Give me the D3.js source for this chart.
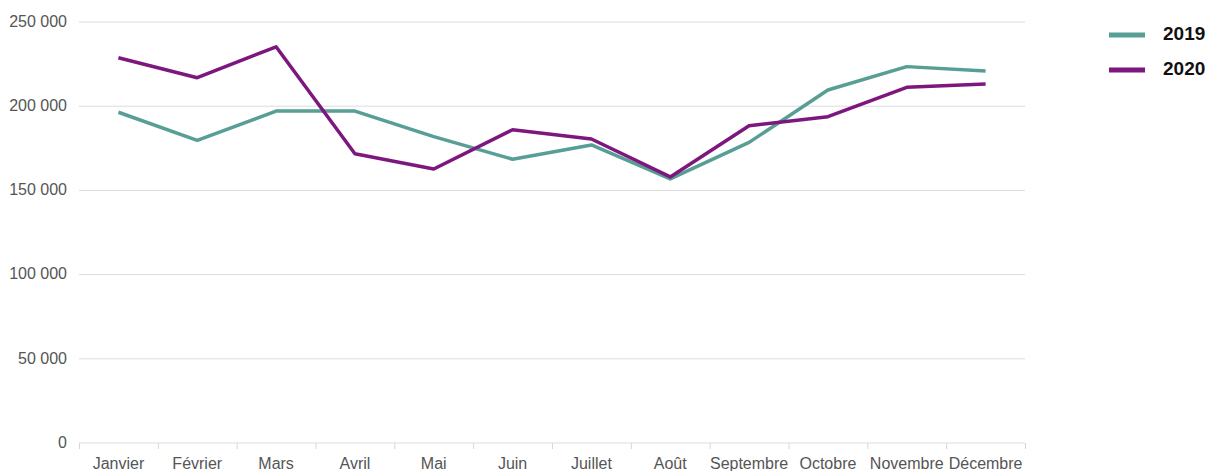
<!DOCTYPE html>
<html>
<head>
<meta charset="utf-8">
<script src="https://cdn.jsdelivr.net/npm/d3@7"></script>
<style>
  body { margin: 0; background: #fff; }
  svg { font-family: "Liberation Sans", Arial, sans-serif; }
</style>
</head>
<body>
<svg id="chart" width="1210" height="471"></svg>
<script>
// data
var months = ["Janvier","Février","Mars","Avril","Mai","Juin","Juillet","Août","Septembre","Octobre","Novembre","Décembre"];
var values2019 = [196400,179700,197100,197100,181900,168500,177000,156800,178500,209600,223500,220900];
var values2020 = [228800,216900,235300,171800,162700,186000,180500,158000,188400,193800,211200,213200];
var yTicks = [0,50000,100000,150000,200000,250000];
var seriesNames = ["2019","2020"];
var seriesColors = ["#579f95","#7d177d"];

var margin = {top: 22, right: 185, bottom: 28, left: 79},
    width = 1210 - margin.left - margin.right,
    height = 471 - margin.top - margin.bottom;

var svg = d3.select('#chart');
var g = svg.append('g').attr("transform", "translate(" + margin.left + "," + margin.top + ")");

var x = d3.scaleBand().domain(months).range([0, width]);
var y = d3.scaleLinear().domain([0, 250000]).range([height, 0]);

var fmt = function(v){ return d3.format(",")(v).replace(/,/g, " "); };

// gridlines
g.append("g")
 .selectAll("line")
 .data(yTicks)
 .join("line")
 .attr("x1", 0).attr("x2", width)
 .attr("y1", d => y(d)).attr("y2", d => y(d))
 .attr("stroke", "#dcdcdc").attr("stroke-width", 1);

// y labels
g.append("g")
 .selectAll("text")
 .data(yTicks)
 .join("text")
 .attr("x", -12).attr("y", d => y(d))
 .attr("dy", "0.3em")
 .attr("text-anchor", "end")
 .attr("font-size", "16px")
 .attr("fill", "#555")
 .text(d => fmt(d));

// x axis
var xAxis = g.append("g")
 .attr("transform", "translate(0," + height + ")")
 .call(d3.axisBottom(x).tickSize(0).tickPadding(15));
xAxis.select(".domain").remove();
xAxis.selectAll("text").attr("font-size", "16px").attr("fill", "#555").attr("font-family", "Liberation Sans, Arial, sans-serif");

// tick marks between categories
var tickPos = months.map(m => x(m)).concat([width]);
g.append("g")
 .selectAll("line")
 .data(tickPos)
 .join("line")
 .attr("x1", d => d + 0.5).attr("x2", d => d + 0.5)
 .attr("y1", height).attr("y2", height + 6)
 .attr("stroke", "#d6d6d6").attr("stroke-width", 1);

// lines
var line = d3.line()
  .x((d, i) => x(months[i]) + x.bandwidth() / 2)
  .y(d => y(d));

[values2019, values2020].forEach(function(vals, i) {
  g.append("path")
   .datum(vals)
   .attr("fill", "none")
   .attr("stroke", seriesColors[i])
   .attr("stroke-width", 3.5)
   .attr("stroke-linejoin", "round")
   .attr("d", line);
});

// legend
var legend = svg.append("g").attr("transform", "translate(1109,35)");
seriesNames.forEach(function(name, i) {
  var row = legend.append("g").attr("transform", "translate(0," + (i * 35) + ")");
  row.append("line")
     .attr("x1", 0).attr("x2", 36)
     .attr("y1", 0).attr("y2", 0)
     .attr("stroke", seriesColors[i])
     .attr("stroke-width", 5);
  row.append("text")
     .attr("x", 54).attr("y", -2)
     .attr("dy", "0.36em")
     .attr("font-size", "19px")
     .attr("font-weight", "bold")
     .attr("fill", "#111")
     .text(name);
});
</script>
</body>
</html>
